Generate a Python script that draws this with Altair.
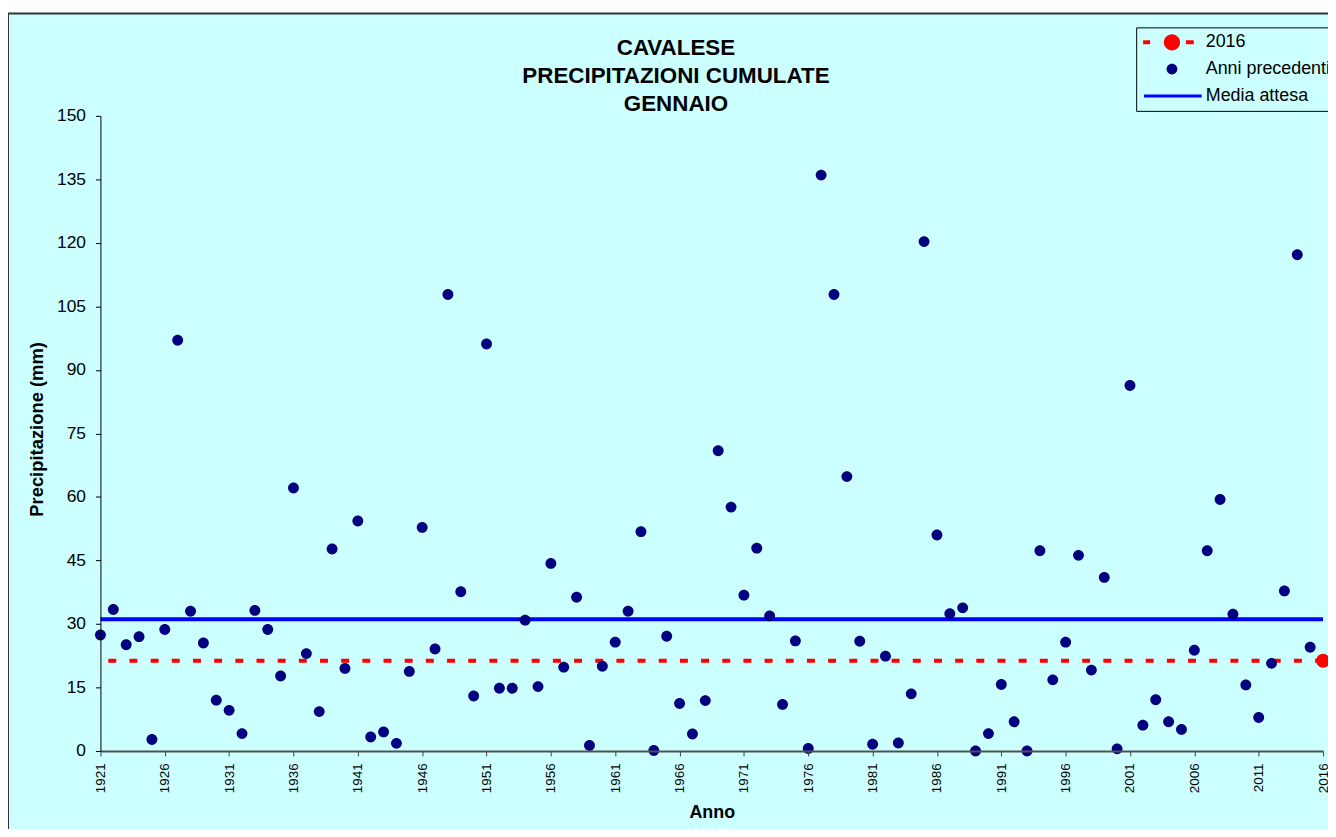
import altair as alt
import pandas as pd

# ---------------- data ----------------
YEARS = [1921, 1922, 1923, 1924, 1925, 1926, 1927, 1928, 1929, 1930,
         1931, 1932, 1933, 1934, 1935, 1936, 1937, 1938, 1939, 1940,
         1941, 1942, 1943, 1944, 1945, 1946, 1947, 1948, 1949, 1950,
         1951, 1952, 1953, 1954, 1955, 1956, 1957, 1958, 1959, 1960,
         1961, 1962, 1963, 1964, 1965, 1966, 1967, 1968, 1969, 1970,
         1971, 1972, 1973, 1974, 1975, 1976, 1977, 1978, 1979, 1980,
         1981, 1982, 1983, 1984, 1985, 1986, 1987, 1988, 1989, 1990,
         1991, 1992, 1993, 1994, 1995, 1996, 1997, 1998, 1999, 2000,
         2001, 2002, 2003, 2004, 2005, 2006, 2007, 2008, 2009, 2010,
         2011, 2012, 2013, 2014, 2015]
PREC = [27.4, 33.4, 25.1, 27.0, 2.7, 28.7, 97.0, 33.0, 25.5, 12.0,
        9.6, 4.1, 33.2, 28.7, 17.7, 62.1, 23.0, 9.3, 47.7, 19.5,
        54.3, 3.3, 4.5, 1.8, 18.8, 52.8, 24.1, 107.8, 37.6, 13.0,
        96.1, 14.8, 14.8, 30.9, 15.2, 44.3, 19.8, 36.3, 1.3, 20.0,
        25.7, 33.0, 51.8, 0.1, 27.1, 11.2, 4.0, 11.9, 70.9, 57.6,
        36.8, 47.9, 31.9, 11.0, 26.0, 0.6, 136.0, 107.8, 64.8, 25.9,
        1.6, 22.4, 1.9, 13.5, 120.3, 51.0, 32.4, 33.8, 0.0, 4.1,
        15.7, 6.9, 0.0, 47.3, 16.8, 25.7, 46.2, 19.1, 41.0, 0.5,
        86.3, 6.1, 12.1, 6.9, 5.1, 23.8, 47.3, 59.4, 32.3, 15.6,
        7.9, 20.7, 37.8, 117.2, 24.5]
YEAR_2016 = [2016]
PREC_2016 = [21.3]
MEDIA_ATTESA = [31.1]

SERIES = ["2016", "Anni precedenti", "Media attesa"]
SERIES_COLORS = ["#FF0000", "#000080", "#0000FF"]
X_TICKS = [1921, 1926, 1931, 1936, 1941, 1946, 1951, 1956, 1961, 1966,
           1971, 1976, 1981, 1986, 1991, 1996, 2001, 2006, 2011, 2016]
Y_TICKS = [0, 15, 30, 45, 60, 75, 90, 105, 120, 135, 150]
TITLE_LINES = ["CAVALESE", "PRECIPITAZIONI CUMULATE", "GENNAIO"]

# legend symbol shapes (dashed line with dot / dot / solid line)
SHAPE_2016 = ("M-3.87,-0.27H-2.93V0.27H-3.87Z M1.87,-0.27H2.93V0.27H1.87Z "
              "M-1.09,0A1.09,1.09 0 1,0 1.09,0A1.09,1.09 0 1,0 -1.09,0Z")
SHAPE_DOT = "M-0.73,0A0.73,0.73 0 1,0 0.73,0A0.73,0.73 0 1,0 -0.73,0Z"
SHAPE_LINE = "M-3.75,-0.2H3.99V0.2H-3.75Z"
SERIES_SHAPES = [SHAPE_2016, SHAPE_DOT, SHAPE_LINE]

FONT = "Liberation Sans"
BG = "#CCFFFF"

df_prev = pd.DataFrame({"Anno": YEARS, "Precipitazione": PREC,
                        "serie": ["Anni precedenti"] * len(YEARS)})
df_2016 = pd.DataFrame({"Anno": YEAR_2016, "Precipitazione": PREC_2016,
                        "serie": ["2016"]})
df_media = pd.DataFrame({"Precipitazione": MEDIA_ATTESA,
                         "serie": ["Media attesa"]})

xs = alt.Scale(domain=[1921, 2016], nice=False, zero=False)
ys = alt.Scale(domain=[0, 150], nice=False, zero=True)
YT = "Precipitazione (mm)"

x_axis = alt.Axis(values=X_TICKS, format="d", labelAngle=270,
                  labelFont=FONT, labelFontSize=13.5, labelColor="black",
                  labelPadding=7, labelFlush=False, labelOverlap=False,
                  tickSize=5, tickColor="#404040", tickWidth=1,
                  domainColor="#505050", domainWidth=2, grid=False,
                  title="Anno", titleFont=FONT, titleFontSize=18,
                  titleFontWeight="bold", titleColor="black",
                  titleX=615, titleY=67, titleBaseline="alphabetic", zindex=1)
y_axis = alt.Axis(values=Y_TICKS, labelFont=FONT, labelFontSize=17.5,
                  labelColor="black", labelPadding=10, labelOverlap=False,
                  labelFlush=False,
                  tickSize=5, tickColor="black", domainColor="black",
                  domainWidth=1, grid=False,
                  title=YT, titleFont=FONT, titleFontSize=18.5,
                  titleFontWeight="bold", titleColor="black",
                  titleX=-58, titleY=315, titleBaseline="alphabetic", zindex=1)

NBSP = "\u00a0" * 14
LEG = alt.Legend(title=None, orient="none", legendX=1042, legendY=-89,
                 padding=6, strokeColor="black", fillColor=BG,
                 labelFont=FONT, labelFontSize=18, labelColor="black",
                 labelLimit=600, labelExpr="datum.label + '" + NBSP + "'",
                 symbolSize=225, symbolStrokeWidth=0, symbolOffset=21,
                 labelOffset=25, rowPadding=9, zindex=2)

frame = alt.Chart(alt.Data(values=[{}])).mark_rect(
    fill=BG, stroke="#333333", strokeWidth=2
).encode(x=alt.value(-93), x2=alt.value(1300),
         y=alt.value(-103), y2=alt.value(800))

media = alt.Chart(df_media).mark_rule(color="#0000FF", strokeWidth=4).encode(
    y=alt.Y("Precipitazione:Q", scale=ys, title=YT))

rule2016 = alt.Chart(df_2016).mark_rule(
    color="#FF0000", strokeWidth=4, strokeDash=[8, 13.3]
).encode(y=alt.Y("Precipitazione:Q", scale=ys, title=YT))

points = alt.Chart(df_prev).mark_point(filled=True, size=225, opacity=1).encode(
    x=alt.X("Anno:Q", scale=xs, axis=x_axis),
    y=alt.Y("Precipitazione:Q", scale=ys, axis=y_axis),
    color=alt.Color("serie:N", scale=alt.Scale(domain=SERIES, range=SERIES_COLORS),
                    legend=LEG),
    shape=alt.Shape("serie:N", scale=alt.Scale(domain=SERIES, range=SERIES_SHAPES),
                    legend=LEG),
)

pt2016 = alt.Chart(df_2016).mark_point(
    filled=True, size=196, opacity=1, color="#FF0000", shape="circle"
).encode(x=alt.X("Anno:Q", scale=xs, title="Anno"),
         y=alt.Y("Precipitazione:Q", scale=ys, title=YT))

title_text = alt.Chart(alt.Data(values=[{}])).mark_text(
    text=TITLE_LINES, font=FONT, fontSize=22.5, fontWeight="bold",
    color="black", align="center", baseline="middle", lineHeight=28
).encode(x=alt.value(579), y=alt.value(-68))

chart = alt.layer(frame, media, rule2016, points, pt2016, title_text).properties(
    width=1230, height=639,
    padding={"left": 93, "top": 106, "right": 5, "bottom": 76},
    autosize=alt.AutoSizeParams(type="none"),
).configure(background="white").configure_view(stroke="transparent")

chart.save("out.html", embed_options={"renderer": "svg", "actions": False})
